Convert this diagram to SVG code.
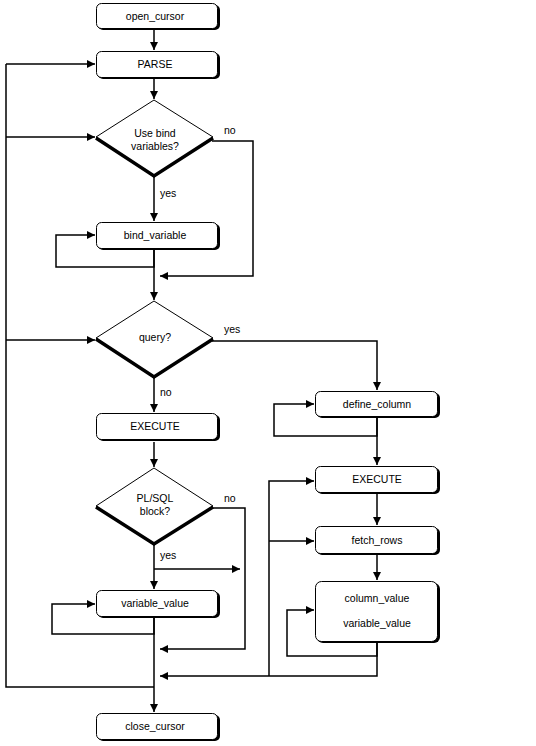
<svg xmlns="http://www.w3.org/2000/svg" width="536" height="746" viewBox="0 0 536 746">
<defs>
<marker id="ah" viewBox="0 0 8 8" refX="8" refY="4" markerWidth="8" markerHeight="8" markerUnits="userSpaceOnUse" orient="auto">
<path d="M0,0 L8,4 L0,8 z" fill="#000"/>
</marker>
</defs>
<style>
text{font-family:"Liberation Sans",Arial,sans-serif;font-size:10.5px;fill:#000}
.c{text-anchor:middle}
.sh{fill:#000}
.bx{fill:#fff;stroke:#000;stroke-width:1}
.dm{fill:#fff;stroke:#000;stroke-width:1}
.dt{fill:none;stroke:#000;stroke-width:3.5}
#connectors path{fill:none;stroke:#000;stroke-width:1.5;stroke-linejoin:miter}
.a{marker-end:url(#ah)}
</style>
<rect width="536" height="746" fill="#fff"/>
<g id="connectors">
<path class="a" d="M154,30 V50"/>
<path class="a" d="M154,79 V99"/>
<path d="M154,687 H6 V64"/>
<path class="a" d="M6,64 H95"/>
<path class="a" d="M6,137 H95"/>
<path class="a" d="M6,340 H95"/>
<path class="a" d="M154,177 V221"/>
<path class="a" d="M212,141 H253 V276 H160"/>
<path class="a" d="M154,250 V267 H56 V235 H95"/>
<path class="a" d="M154,250 V300"/>
<path class="a" d="M212,341 H377 V390"/>
<path class="a" d="M154,378 V412"/>
<path class="a" d="M154,442 V467"/>
<path class="a" d="M212,508 H245 V649 H160"/>
<path class="a" d="M154,545 V589"/>
<path class="a" d="M154,569 H240"/>
<path class="a" d="M154,618 V634 H52 V604 H95"/>
<path class="a" d="M154,618 V712"/>
<path class="a" d="M377,418 V436 H274 V404 H314"/>
<path class="a" d="M377,418 V465"/>
<path class="a" d="M377,494 V525"/>
<path class="a" d="M377,555 V580"/>
<path class="a" d="M377,642 V656 H287 V610 H314"/>
<path class="a" d="M377,642 V676 H160"/>
<path class="a" d="M269,676 V481 H314"/>
<path class="a" d="M269,541 H314"/>
</g>
<g id="open_cursor">
<rect class="sh" x="98" y="5" width="122" height="25" rx="5"/>
<rect class="bx" x="96.5" y="3.5" width="121" height="25" rx="5"/>
<text class="c" x="155" y="20">open_cursor</text>
</g>
<g id="parse">
<rect class="sh" x="98" y="53" width="122" height="26" rx="5"/>
<rect class="bx" x="96.5" y="51.5" width="121" height="26" rx="5"/>
<text class="c" x="155" y="68">PARSE</text>
</g>
<g id="use_bind">
<polygon class="dm" points="154,100 213,137 154,177 96,137"/>
<polyline class="dt" points="96,138 154,176 213,138"/>
<text class="c" x="155" y="137">Use bind</text>
<text class="c" x="155" y="150">variables?</text>
</g>
<g id="bind_variable">
<rect class="sh" x="98" y="224" width="122" height="26" rx="5"/>
<rect class="bx" x="96.5" y="222.5" width="121" height="26" rx="5"/>
<text class="c" x="155" y="239">bind_variable</text>
</g>
<g id="query">
<polygon class="dm" points="154,301 213,338 154,378 96,338"/>
<polyline class="dt" points="96,339 154,377 213,339"/>
<text class="c" x="155" y="341">query?</text>
</g>
<g id="execute_left">
<rect class="sh" x="98" y="415" width="122" height="26" rx="5"/>
<rect class="bx" x="96.5" y="413.5" width="121" height="26" rx="5"/>
<text class="c" x="155" y="430">EXECUTE</text>
</g>
<g id="plsql">
<polygon class="dm" points="154,468 213,506 154,545 96,506"/>
<polyline class="dt" points="96,507 154,544 213,507"/>
<text class="c" x="155" y="502">PL/SQL</text>
<text class="c" x="155" y="515">block?</text>
</g>
<g id="variable_value">
<rect class="sh" x="98" y="592" width="122" height="26" rx="5"/>
<rect class="bx" x="96.5" y="590.5" width="121" height="26" rx="5"/>
<text class="c" x="155" y="607">variable_value</text>
</g>
<g id="close_cursor">
<rect class="sh" x="98" y="715" width="122" height="26" rx="5"/>
<rect class="bx" x="96.5" y="713.5" width="121" height="26" rx="5"/>
<text class="c" x="155" y="730">close_cursor</text>
</g>
<g id="define_column">
<rect class="sh" x="317" y="393" width="123" height="25" rx="5"/>
<rect class="bx" x="315.5" y="391.5" width="122" height="25" rx="5"/>
<text class="c" x="377" y="408">define_column</text>
</g>
<g id="execute_right">
<rect class="sh" x="317" y="468" width="123" height="26" rx="5"/>
<rect class="bx" x="315.5" y="466.5" width="122" height="26" rx="5"/>
<text class="c" x="377" y="483">EXECUTE</text>
</g>
<g id="fetch_rows">
<rect class="sh" x="317" y="528" width="123" height="27" rx="5"/>
<rect class="bx" x="315.5" y="526.5" width="122" height="27" rx="5"/>
<text class="c" x="377" y="544">fetch_rows</text>
</g>
<g id="column_variable_value">
<rect class="sh" x="317" y="583" width="123" height="60" rx="6"/>
<rect class="bx" x="315.5" y="581.5" width="122" height="60" rx="6"/>
<text class="c" x="377" y="602">column_value</text>
<text class="c" x="377" y="627">variable_value</text>
</g>
<g id="labels">
<text x="224" y="134">no</text>
<text x="160" y="197">yes</text>
<text x="224" y="333">yes</text>
<text x="160" y="396">no</text>
<text x="224" y="502">no</text>
<text x="160" y="559">yes</text>
</g>
</svg>
